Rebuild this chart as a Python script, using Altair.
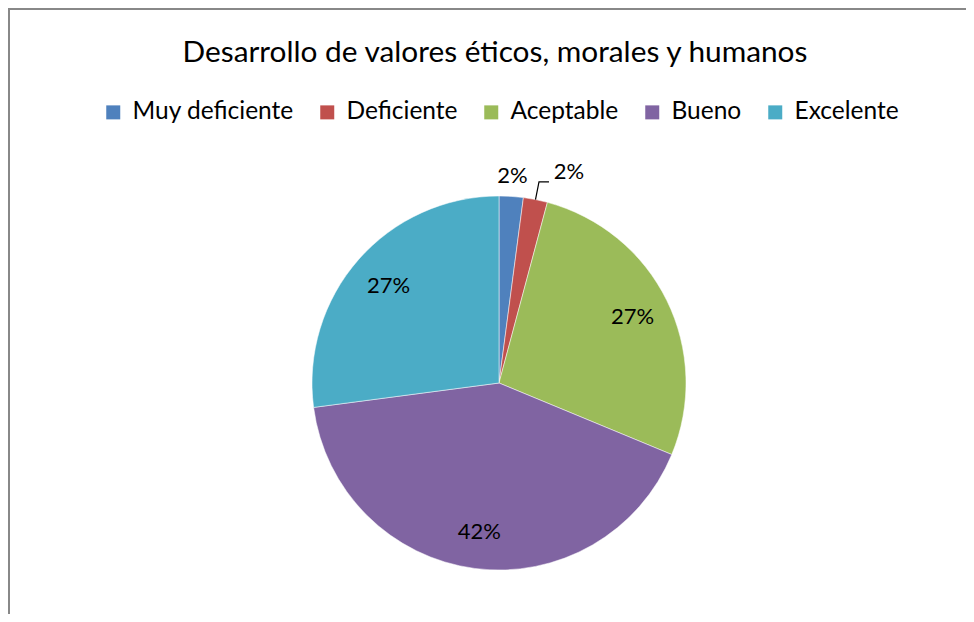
import altair as alt
import pandas as pd
import math

categories = ["Muy deficiente", "Deficiente", "Aceptable", "Bueno", "Excelente"]
counts = [1, 1, 13, 20, 13]
pct_labels = ["2%", "2%", "27%", "42%", "27%"]
colors = ["#4F81BD", "#C0504D", "#9BBB59", "#8064A2", "#4BACC6"]
title_text = "Desarrollo de valores éticos, morales y humanos"

FONT = "Lato"
W, H = 958, 606
CX, CY, R = 491, 375, 187

label_r = [207, 215, 149, 150, 147]
df = pd.DataFrame({
    "cat": categories,
    "count": counts,
    "idx": list(range(len(categories))),
    "lab_main": [l if i != 1 else "" for i, l in enumerate(pct_labels)],
    "lab_out": [l if i == 1 else "" for i, l in enumerate(pct_labels)],
    "lr": label_r,
})

total = sum(counts)
mid = (sum(counts[:1]) + counts[1] / 2) / total * 2 * math.pi
p0 = (CX + R * math.sin(mid), CY - R * math.cos(mid))
p1 = (CX + 205 * math.sin(mid), CY - 205 * math.cos(mid))
p2 = (p1[0] + 10, p1[1])
leader = pd.DataFrame({"px": [p0[0], p1[0], p2[0]], "py": [p0[1], p1[1], p2[1]], "o": [0, 1, 2]})

theta_scale = alt.Scale(domain=[0, total], range=[0, 2 * math.pi])

base = alt.Chart(df).transform_stack(
    stack="count", as_=["s0", "s1"], groupby=[], sort=[alt.SortField("idx", order="ascending")]
).transform_calculate(smid="(datum.s0 + datum.s1) / 2")

pie = base.mark_arc(radius=R, stroke="white", strokeWidth=0.5).encode(
    x=alt.value(CX), y=alt.value(CY),
    theta=alt.Theta("s0:Q", scale=theta_scale, stack=None),
    theta2="s1:Q",
    color=alt.Color(
        "cat:N",
        scale=alt.Scale(domain=categories, range=colors),
        sort=categories,
        legend=alt.Legend(
            title=None, orient="none", legendX=93, legendY=92, direction="horizontal",
            symbolType="square", symbolSize=196, symbolStrokeWidth=0,
            labelFont=FONT, labelFontSize=24.5, labelColor="black", labelOffset=7,
            columnPadding=21, labelLimit=400,
        ),
    ),
)

txt_main = base.mark_text(font=FONT, fontSize=22, color="black").encode(
    x=alt.value(CX), y=alt.value(CY),
    theta=alt.Theta("smid:Q", scale=theta_scale, stack=None),
    radius=alt.Radius("lr:Q", scale=None),
    text="lab_main:N",
)
txt_out = base.mark_text(font=FONT, fontSize=22, color="black", dx=28).encode(
    x=alt.value(CX), y=alt.value(CY),
    theta=alt.Theta("smid:Q", scale=theta_scale, stack=None),
    radius=alt.Radius("lr:Q", scale=None),
    text="lab_out:N",
)

lead = alt.Chart(leader).mark_line(color="black", strokeWidth=1.2).encode(
    x=alt.X("px:Q", scale=None), y=alt.Y("py:Q", scale=None), order="o:Q"
)

title = alt.Chart(pd.DataFrame({"t": [title_text]})).mark_text(
    font=FONT, fontSize=29.8, color="black", baseline="middle", align="center"
).encode(x=alt.value(487), y=alt.value(45), text="t:N")

border = alt.Chart(pd.DataFrame({"a": [0]})).mark_rule(color="#888888", strokeWidth=2)
left_b = border.encode(x=alt.value(1), y=alt.value(0), y2=alt.value(H))
top_b = border.encode(x=alt.value(0), x2=alt.value(W), y=alt.value(1))

chart = alt.layer(pie, txt_main, txt_out, lead, title, left_b, top_b).properties(
    width=W, height=H, autosize=alt.AutoSizeParams(type="none"), padding=0
).configure_view(stroke=None).configure(background="white")

chart.save("out.html", embed_options={"renderer": "svg", "actions": False})
